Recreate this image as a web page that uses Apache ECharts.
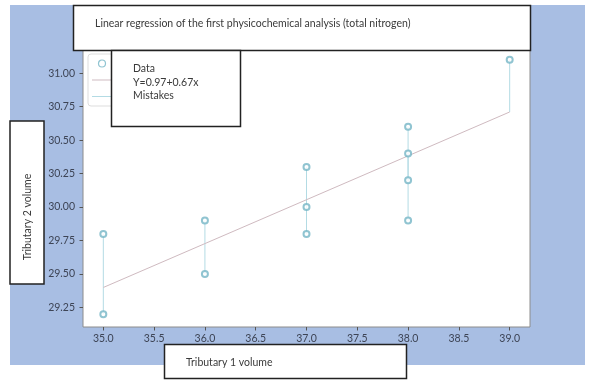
<!DOCTYPE html>
<html>
<head>
<meta charset="utf-8">
<script src="https://cdn.jsdelivr.net/npm/echarts@6/dist/echarts.min.js"></script>
<style>
html,body{margin:0;padding:0;background:#fff;}
#chart{width:589px;height:380px;}
</style>
</head>
<body>
<div id="chart"></div>
<script>
// ---- data ----
var dataX = [35, 35, 36, 36, 37, 37, 37, 38, 38, 38, 38, 39];
var dataY = [29.8, 29.2, 29.9, 29.5, 30.3, 30.0, 29.8, 30.6, 30.4, 30.2, 29.9, 31.1];
var fitX = [35, 36, 37, 38, 39];
var fitY = [29.40, 29.73, 30.06, 30.38, 30.71];
var xTicks = [35.0, 35.5, 36.0, 36.5, 37.0, 37.5, 38.0, 38.5, 39.0];
var yTicks = [29.25, 29.50, 29.75, 30.00, 30.25, 30.50, 30.75, 31.00];
var seriesNames = ['Data', 'Y=0.97+0.67x', 'Mistakes'];
var titleText = 'Linear regression of the first physicochemical analysis (total nitrogen)';
var xLabel = 'Tributary 1 volume';
var yLabel = 'Tributary 2 volume';

// ---- build ----
var scatterData = dataX.map(function (x, i) { return [x, dataY[i]]; });
var fitLine = [[fitX[0], fitY[0]], [fitX[fitX.length - 1], fitY[fitY.length - 1]]];
var errData = [];
dataX.forEach(function (x, i) {
  var k = fitX.indexOf(x);
  errData.push([x, dataY[i]]);
  errData.push([x, fitY[k]]);
  errData.push(null);
});

var FONT = 'Lato';
var C_PT = '#74b5c6', C_ERR = '#b3dbe4', C_FIT = '#cfbac0';
var LINE_ICON = 'path://M0,0L20,0L20,1L0,1Z';
var TXT = {fill: '#3a3a3a', font: '10.5px Lato', textVerticalAlign: 'middle'};
function txt(x, y, s, extra) {
  var st = Object.assign({text: s}, TXT, extra || {});
  return {type: 'text', x: x, y: y, z: 100, silent: true, style: st};
}
function box(x, y, w, h) {
  return {type: 'rect', z: 99, silent: true, shape: {x: x, y: y, width: w, height: h},
          style: {fill: '#fff', stroke: '#222', lineWidth: 1.5}};
}

var chart = echarts.init(document.getElementById('chart'), null, {renderer: 'canvas'});
chart.setOption({
  animation: false,
  backgroundColor: '#ffffff',
  grid: {left: 83, right: 59, top: 47, bottom: 53, show: true,
         borderColor: '#8c8c8c', borderWidth: 1, backgroundColor: '#ffffff'},
  xAxis: {
    type: 'value', min: 34.8, max: 39.2,
    axisLine: {show: false},
    splitLine: {show: false},
    axisTick: {show: true, length: 3.5, lineStyle: {color: '#555'}, customValues: xTicks},
    axisLabel: {customValues: xTicks, margin: 6, fontFamily: FONT, fontSize: 10.5, color: '#3d4455',
                formatter: function (v) { return v.toFixed(1); }}
  },
  yAxis: {
    type: 'value', min: 29.105, max: 31.195,
    axisLine: {show: false},
    splitLine: {show: false},
    axisTick: {show: true, length: 3.5, lineStyle: {color: '#555'}, customValues: yTicks},
    axisLabel: {customValues: yTicks, margin: 8, fontFamily: FONT, fontSize: 10.5, color: '#3d4455',
                formatter: function (v) { return v.toFixed(2); }}
  },
  legend: {
    show: true, orient: 'vertical', left: 88, top: 54,
    padding: [5, 4, 5, 4], itemWidth: 20, itemHeight: 7, itemGap: 7.5,
    borderColor: '#dddddd', borderWidth: 1, borderRadius: 3, backgroundColor: '#ffffff',
    textStyle: {fontFamily: FONT, fontSize: 9, color: '#333'},
    data: [
      {name: seriesNames[0], icon: 'circle', itemStyle: {color: '#ffffff', borderColor: C_PT, borderWidth: 1.2}},
      {name: seriesNames[1], icon: LINE_ICON, itemStyle: {color: C_FIT}},
      {name: seriesNames[2], icon: LINE_ICON, itemStyle: {color: C_ERR}}
    ]
  },
  series: [
    {name: seriesNames[2], type: 'line', data: errData, showSymbol: false, symbol: 'none',
     connectNulls: false, itemStyle: {color: C_ERR}, lineStyle: {color: C_ERR, width: 1}, z: 2},
    {name: seriesNames[1], type: 'line', data: fitLine, showSymbol: false, symbol: 'none',
     itemStyle: {color: C_FIT}, lineStyle: {color: C_FIT, width: 1}, z: 3},
    {name: seriesNames[0], type: 'scatter', data: scatterData, symbol: 'emptyCircle', symbolSize: 6,
     itemStyle: {color: C_PT, borderColor: C_PT, borderWidth: 1.1}, z: 4}
  ],
  graphic: [
    {type: 'rect', z: -10, silent: true, shape: {x: 10, y: 5, width: 575, height: 360}, style: {fill: '#a8bee3'}},
    box(73.5, 5.5, 457, 45),
    txt(95, 23.5, titleText),
    box(111.5, 50.5, 129, 76),
    txt(133, 69, seriesNames[0]),
    txt(133, 82.5, seriesNames[1]),
    txt(133, 96, seriesNames[2]),
    box(10, 121, 34, 163),
    {type: 'text', x: 28, y: 217, rotation: Math.PI / 2, z: 100, silent: true,
     style: Object.assign({text: yLabel}, TXT, {textAlign: 'center'})},
    box(164.5, 344.5, 242, 34),
    txt(186, 363, xLabel)
  ]
});
</script>
</body>
</html>
